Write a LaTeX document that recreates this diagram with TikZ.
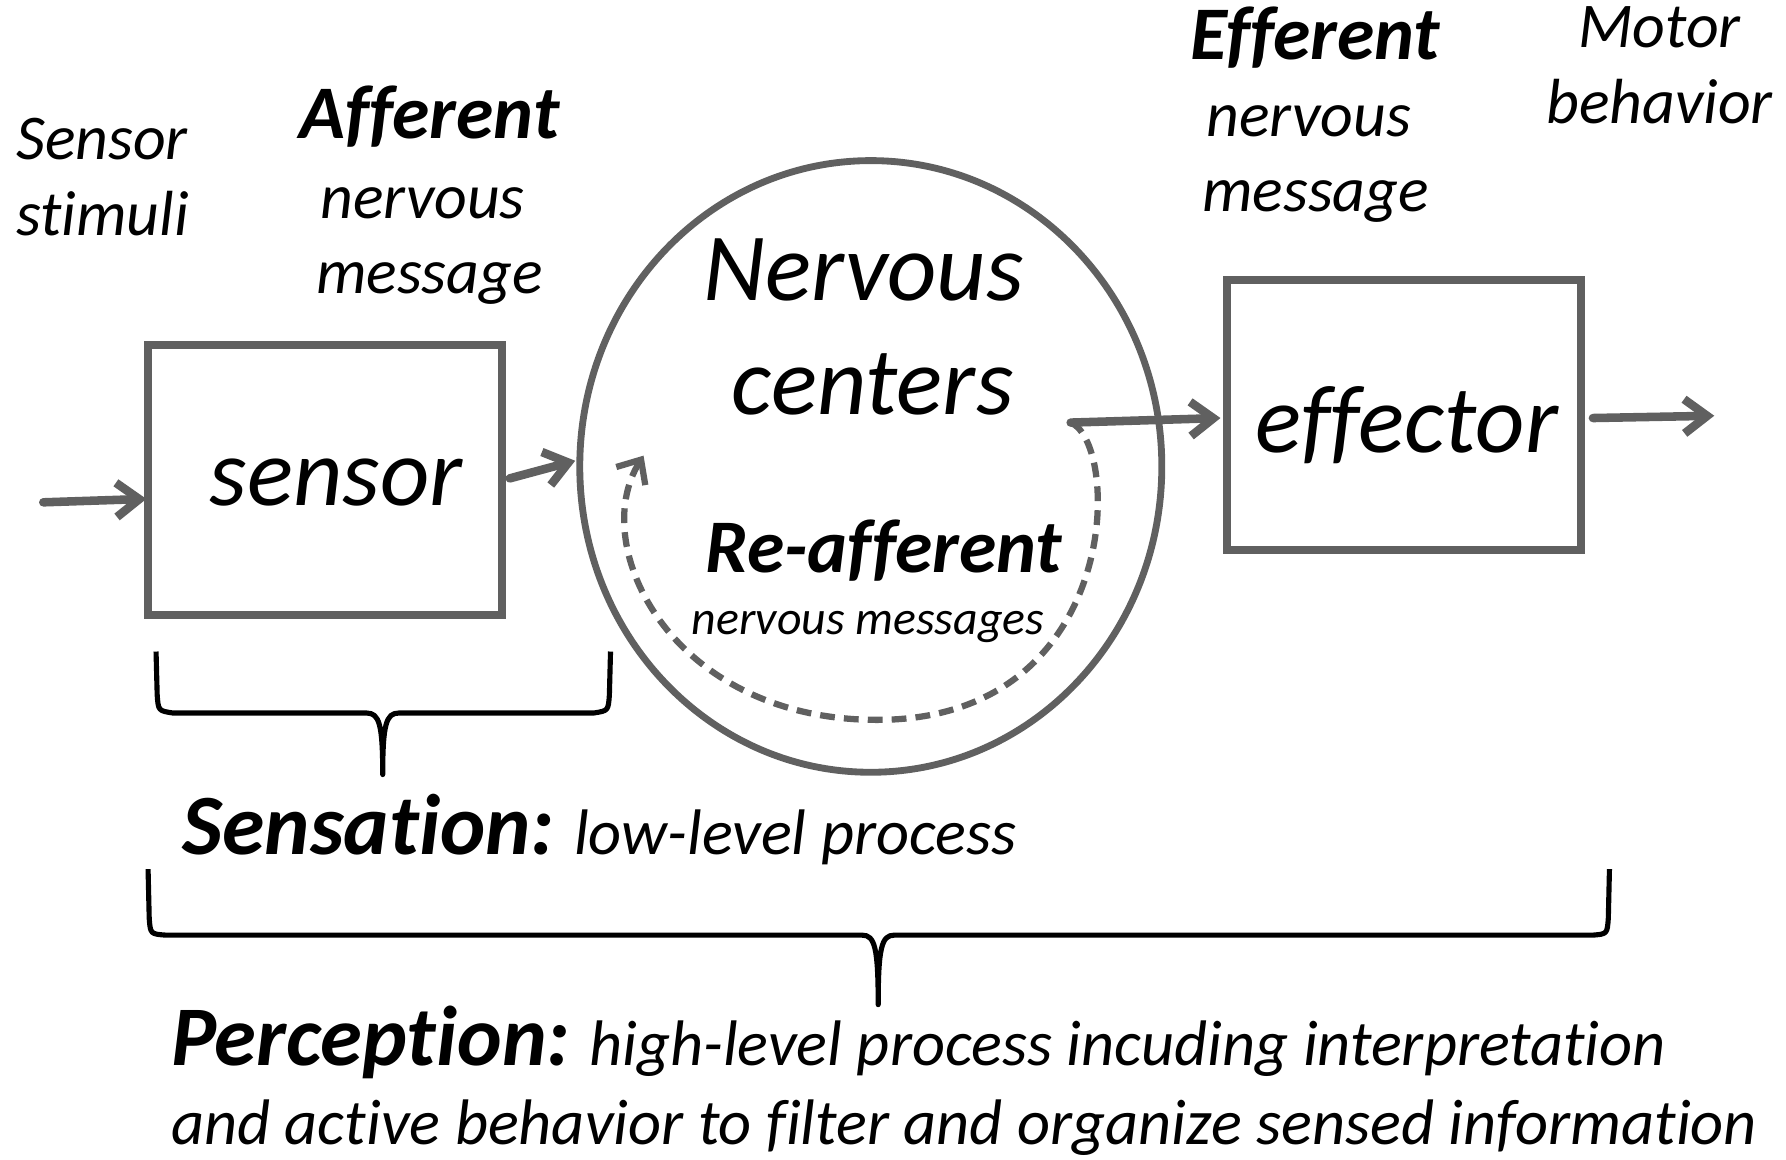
\documentclass[tikz,border=0pt]{standalone}
\usepackage{fontspec}
\setmainfont{Carlito}[Ligatures=NoCommon]
\usetikzlibrary{arrows.meta,shapes.geometric,calc}
\definecolor{gr}{HTML}{606060}
\begin{document}
\begin{tikzpicture}[x=1pt,y=-1pt,
  box/.style={draw=gr,line width=7pt,minimum width=311pt,minimum height=237pt,inner sep=0pt},
  arr/.style={draw=gr,line width=7.5pt,line cap=round,-{Straight Barb[length=20pt,width=30pt]}},
  darr/.style={draw=gr,line width=5.5pt,dash pattern=on 13pt off 8pt,-{Straight Barb[length=17pt,width=30pt]}},
  brace/.style={draw=black,line width=4.5pt,line join=round},
  t54/.style={inner sep=0pt,anchor=base,font=\itshape\fontsize{56}{60}\selectfont},
  tbig/.style={inner sep=0pt,anchor=base,font=\itshape\fontsize{84.5}{90}\selectfont},
  tbold/.style={inner sep=0pt,anchor=base,font=\bfseries\itshape\fontsize{66.5}{70}\selectfont}]
\fill[white] (0,0) rectangle (1568,1018);
\useasboundingbox (0,0) rectangle (1568,1018);

% boxes and circle
\node[box] (sensor) at (285.5,421.5) {};
\node[box] (effector) at (1232.5,364.5) {};
\node[draw=gr,line width=6pt,ellipse,minimum width=511pt,minimum height=537pt,inner sep=0pt] (nc) at (764.5,409.5) {};

% texts
\node[t54,anchor=base west] (s1) at (14,140) {Sensor};
\node[t54,anchor=base west] (s2) at (14,207) {stimuli};
\node[tbold] (a1) at (377,122) {Afferent};
\node[t54] (a2) at (371,192) {nervous};
\node[t54] (a3) at (377,258) {message};
\node[tbig] (n1) at (758,264) {Nervous};
\node[tbig] (n2) at (766,364) {centers};
\node[tbig] (sensortxt) at (295,444) {sensor};
\node[tbig] (efftxt) at (1235,397) {effector};
\node[tbold] (r1) at (776,503) {Re-afferent};
\node[inner sep=0pt,anchor=base,font=\itshape\fontsize{42}{48}\selectfont] (r2) at (762,557) {nervous messages};
\node[tbold] (e1) at (1155,52) {Efferent};
\node[t54] (e2) at (1149,120) {nervous};
\node[t54] (e3) at (1155,186) {message};
\node[t54] (m1) at (1457,42) {Motor};
\node[t54] (m2) at (1457,108) {behavior};
\node[inner sep=0pt,anchor=base west,font=\itshape\fontsize{56.5}{60}\selectfont] (sens) at (160,750)
  {{\bfseries\fontsize{75.5}{80}\selectfont Sensation:} low-level process};
\node[inner sep=0pt,anchor=base west,font=\itshape\fontsize{56.5}{60}\selectfont] (perc1) at (150,935)
  {{\bfseries\fontsize{74.5}{80}\selectfont Perception:} high-level process incuding interpretation};
\node[inner sep=0pt,anchor=base west,font=\itshape\fontsize{56.5}{60}\selectfont] (perc2) at (150,1005)
  {and active behavior to filter and organize sensed information};

% connectors
\coordinate (in) at (38,441);
\coordinate (ef0) at (940,371);
\coordinate (out) at (1505,365);
\coordinate (rabot) at (770,632);
\coordinate (ratip) at (565,400);
\draw[arr] (in) -- ($(sensor.west)+(2,16.5)$);
\draw[arr] ($(sensor.east)+(3,-1.5)$) -- ($(nc.west)+(-1,-5)$);
\draw[arr] (ef0) -- ($(effector.west)+(-2,2.5)$);
\draw[arr] ($(effector.east)+(7,2.5)$) -- (out);
\draw[darr] (ef0) .. controls (985,390) and (985,632) .. (rabot)
  .. controls (590,632) and (515,480) .. (ratip);

% braces
\draw[brace] (137,572) -- (138,610) .. controls (139,624) .. (152,626) -- (322,626)
  .. controls (333,626) and (336,636) .. (336,680)
  .. controls (336,636) and (339,626) .. (350,626) -- (521,626)
  .. controls (534,624) .. (535,610) -- (536,572);
\draw[brace] (130,763) -- (131,806) .. controls (132,820) .. (146,821) -- (757,821)
  .. controls (768,821) and (771,832) .. (771,882)
  .. controls (771,832) and (774,821) .. (785,821) -- (1398,821)
  .. controls (1411,820) .. (1412,806) -- (1413,763);
\end{tikzpicture}
\end{document}
